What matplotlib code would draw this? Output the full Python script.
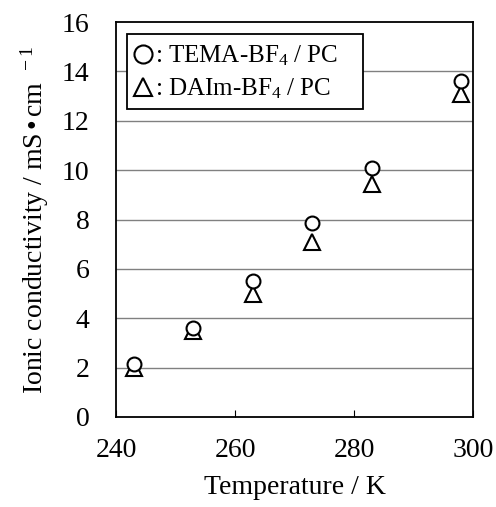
import matplotlib.pyplot as plt
from matplotlib.lines import Line2D
from matplotlib.patches import Rectangle

plt.rcParams['font.family'] = ['Liberation Serif', 'DejaVu Serif']
plt.rcParams['mathtext.fontset'] = 'custom'
plt.rcParams['mathtext.rm'] = 'Liberation Serif'
plt.rcParams['mathtext.it'] = 'Liberation Serif:italic'

# data
temp_tema = [243, 253, 263, 273, 283, 298]
cond_tema = [2.15, 3.6, 5.5, 7.85, 10.1, 13.6]
temp_daim = [243, 253, 263, 273, 283, 298]
cond_daim = [2.0, 3.5, 5.0, 7.1, 9.45, 13.1]
labels = [': TEMA-BF$_4$ / PC', ': DAIm-BF$_4$ / PC']

fig = plt.figure(figsize=(4.96, 5.07), dpi=100)
ax = fig.add_axes([116 / 496, 1 - 417 / 507, 357 / 496, 395 / 507])

for yv in range(2, 16, 2):
    ax.axhline(yv, color='#808080', lw=1.0, zorder=1)

ax.plot(temp_tema, cond_tema, 'o', ms=10, mfc='white', mec='black', mew=1.5, zorder=3)
ax.plot(temp_daim, cond_daim, '^', ms=11, mfc='white', mec='black', mew=1.5, zorder=2)

ax.set_xlim(240, 300)
ax.set_ylim(0, 16)
ax.set_xticks([240, 260, 280, 300])
ax.set_yticks(range(0, 17, 2))
ax.tick_params(axis='x', direction='in', length=5, width=0.8, labelsize=20, pad=15)
ax.tick_params(axis='y', length=0, labelsize=20, pad=19)
for s in ax.spines.values():
    s.set_linewidth(1.3)

ax.set_xlabel('Temperature / K', fontsize=20, labelpad=9)
ax.set_ylabel('Ionic conductivity / mS$\\,$\u2022$\\,$cm$^{\\ \\ -1}$', fontsize=20, labelpad=8)

# legend box drawn separately (it is wider than the text in the original)
ax.add_patch(Rectangle((0.031, 0.78), 0.661, 0.19, transform=ax.transAxes,
                       facecolor='white', edgecolor='black', lw=1.3, zorder=4))

handles = [Line2D([], [], ls='none', marker='o', ms=13, mfc='white', mec='black', mew=1.5),
           Line2D([], [], ls='none', marker='^', ms=13, mfc='white', mec='black', mew=1.5)]
leg = ax.legend(handles, labels, loc='upper left', bbox_to_anchor=(0.03, 0.965),
                fontsize=18, frameon=False,
                handlelength=0.7, handletextpad=0.15, borderpad=0.3,
                labelspacing=0.35, borderaxespad=0.0)
leg.set_zorder(5)

fig.savefig('out.png', dpi=100)
